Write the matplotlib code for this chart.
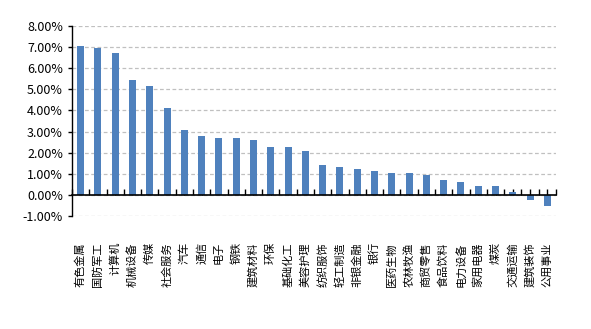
import matplotlib
matplotlib.use('Agg')
import matplotlib.pyplot as plt
from matplotlib.ticker import FixedLocator, FuncFormatter

plt.rcParams['font.family'] = ['Noto Sans CJK SC', 'DejaVu Sans']

industries = ['有色金属', '国防军工', '计算机', '机械设备', '传媒', '社会服务', '汽车',
              '通信', '电子', '钢铁', '建筑材料', '环保', '基础化工', '美容护理',
              '纺织服饰', '轻工制造', '非银金融', '银行', '医药生物', '农林牧渔',
              '商贸零售', '食品饮料', '电力设备', '家用电器', '煤炭', '交通运输',
              '建筑装饰', '公用事业']
returns = [7.05, 6.96, 6.72, 5.44, 5.16, 4.12, 3.08, 2.79, 2.70, 2.70, 2.60,
           2.27, 2.28, 2.10, 1.43, 1.33, 1.24, 1.14, 1.05, 1.05, 0.95, 0.71,
           0.62, 0.43, 0.43, 0.14, -0.23, -0.51]
y_ticks = [-1, 0, 1, 2, 3, 4, 5, 6, 7, 8]

fig = plt.figure(figsize=(5.91, 3.29), dpi=100)
ax = fig.add_axes([0.1218, 0.3435, 0.819, 0.5775])

x = list(range(len(industries)))
ax.bar(x, returns, width=0.4, color='#4F81BD', zorder=2)

ax.set_xlim(-0.5, len(industries) - 0.5)
ax.set_ylim(-1, 8)
ax.yaxis.set_major_locator(FixedLocator(y_ticks))
ax.yaxis.set_major_formatter(FuncFormatter(lambda v, p: f'{v:.2f}%'))
ax.grid(axis='y', color='#c0c0c0', linestyle=(0, (3, 2)), linewidth=0.9, zorder=0)

ax.spines['top'].set_visible(False)
ax.spines['right'].set_visible(False)
ax.spines['bottom'].set_position(('data', 0))
ax.spines['bottom'].set_linewidth(1.2)
ax.spines['bottom'].set_zorder(3)
ax.spines['left'].set_linewidth(1.0)

# category boundaries carry the major ticks, bar centres the minor ones
ax.set_xticks([i + 0.5 for i in range(-1, len(industries))])
ax.set_xticklabels([])
ax.set_xticks(x, minor=True)
ax.set_xticklabels(industries, minor=True, rotation=90, fontsize=8)
ax.tick_params(axis='x', which='both', direction='in', length=4, width=1.0)
ax.tick_params(axis='x', which='minor', pad=34)
for t in ax.xaxis.get_minor_ticks() + ax.xaxis.get_major_ticks():
    t.tick1line.set_zorder(4)
ax.tick_params(axis='y', direction='out', length=3, width=1.0, labelsize=9)

fig.savefig('out.png', dpi=100)
